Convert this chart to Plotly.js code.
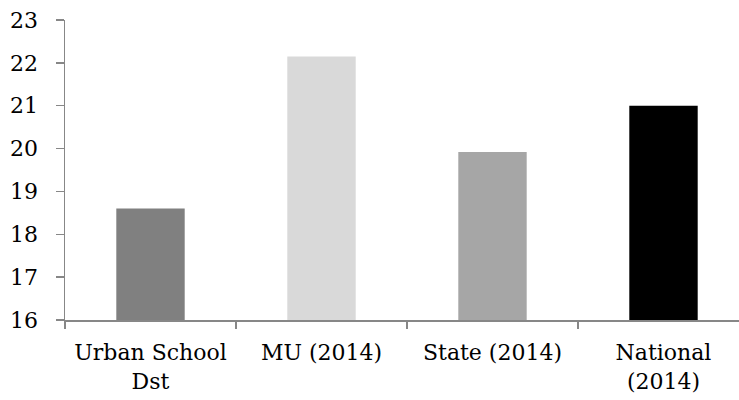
<!DOCTYPE html>
<html>
<head>
<meta charset="utf-8">
<script src="https://cdn.plot.ly/plotly-3.0.1.min.js"></script>
<style>html,body{margin:0;padding:0;background:#fff;}#chart{width:739px;height:400px;}</style>
</head>
<body>
<div id="chart"></div>
<script>
const categories = ["Urban School<br>Dst", "MU (2014)", "State (2014)", "National<br>(2014)"];
const values = [18.6, 22.15, 19.92, 21.0];
const barColors = ["#808080", "#d9d9d9", "#a6a6a6", "#000000"];
const yTicks = [16, 17, 18, 19, 20, 21, 22, 23];
const yBase = 16;

const trace = {
  type: "bar",
  x: categories,
  y: values.map(v => v - yBase),
  base: yBase,
  marker: {color: barColors, line: {width: 0}},
  width: 0.4,
  hoverinfo: "skip"
};

const layout = {
  width: 739, height: 400,
  margin: {l: 65, r: 0, t: 20, b: 80, pad: 0},
  paper_bgcolor: "#fff", plot_bgcolor: "#fff",
  showlegend: false,
  font: {family: "DejaVu Serif", size: 22, color: "#000"},
  xaxis: {
    type: "category",
    range: [-0.5, 3.4415],
    showline: true, linecolor: "#878787", linewidth: 1.5,
    ticks: "outside", tickson: "boundaries", ticklen: 7, tickcolor: "#878787", tickwidth: 1.5,
    showgrid: false, zeroline: false,
    ticklabelstandoff: 12,
    fixedrange: true
  },
  yaxis: {
    range: [16, 23],
    tickvals: yTicks,
    ticktext: yTicks.map(String),
    showline: true, linecolor: "#878787", linewidth: 1.5,
    ticks: "outside", ticklen: 8, tickcolor: "#878787", tickwidth: 1.5,
    showgrid: false, zeroline: false,
    ticklabelstandoff: 13,
    fixedrange: true
  }
};

Plotly.newPlot("chart", [trace], layout, {displayModeBar: false, staticPlot: true});
</script>
</body>
</html>
